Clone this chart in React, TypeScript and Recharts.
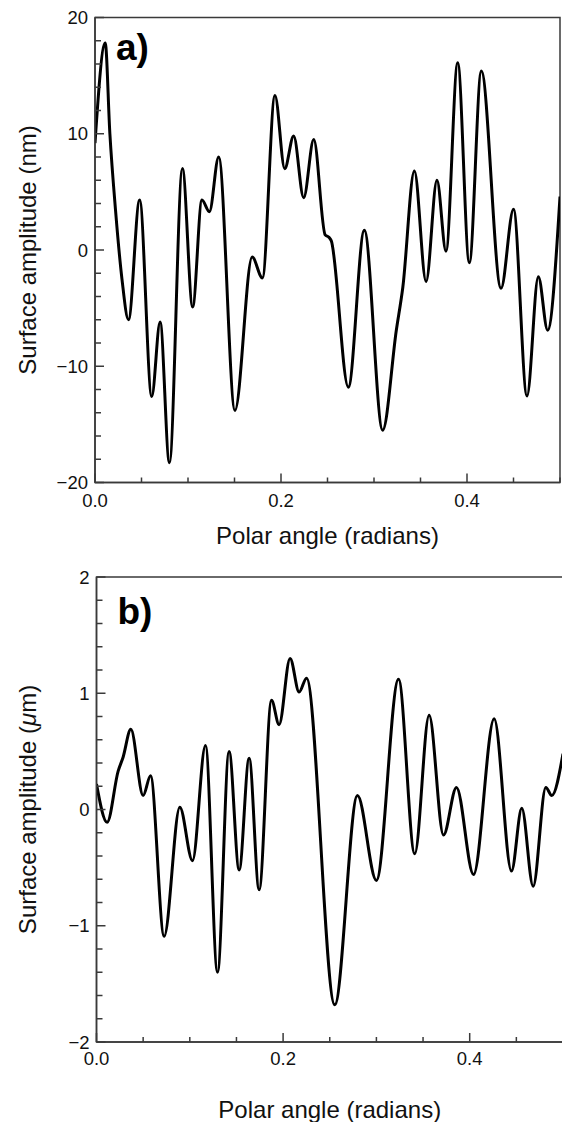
import React from "react";
import { LineChart, Line, XAxis, YAxis, ReferenceArea } from "recharts";

const FONT = "'Liberation Sans', Arial, Helvetica, sans-serif";
const AXIS = "#3a3a3a";

// panel a: surface amplitude in nm
const angleA = [
  0, 0.011, 0.016, 0.022, 0.029, 0.036, 0.048, 0.061, 0.07, 0.08, 0.094, 0.105,
  0.115, 0.123, 0.133, 0.1505, 0.169, 0.18, 0.1935, 0.204, 0.2136, 0.2244,
  0.2352, 0.2475, 0.2515, 0.254, 0.2724, 0.2896, 0.3093, 0.324, 0.331, 0.3434,
  0.356, 0.3677, 0.3774, 0.39, 0.4025, 0.4154, 0.4366, 0.45, 0.4645, 0.4767,
  0.4867, 0.5,
];
const amplitudeA = [
  9.2, 17.8, 10.0, 3.5, -2.5, -6.0, 4.3, -12.6, -6.2, -18.3, 7.0, -4.9,
  4.3, 3.3, 8.0, -13.8, -0.6, -2.4, 13.3, 7.0, 9.8, 4.5,
  9.5, 1.3, 1.1, 0.8, -11.8, 1.7, -15.5, -6.9, -3.2, 6.8,
  -2.7, 6.0, -0.1, 16.1, -1.1, 15.4, -3.3, 3.5, -12.55, -2.3,
  -6.9, 4.6,
];

// panel b: surface amplitude in micrometres
const angleB = [
  0, 0.0114, 0.0232, 0.0285, 0.0368, 0.05, 0.0579, 0.0725, 0.0893, 0.1029,
  0.1168, 0.1297, 0.1421, 0.1529, 0.1636, 0.1743, 0.1876, 0.1957, 0.2075,
  0.2172, 0.2251, 0.2554, 0.2797, 0.3, 0.3237, 0.3411, 0.3565, 0.3719, 0.3858,
  0.4041, 0.4262, 0.4448, 0.4558, 0.468, 0.4816, 0.488, 0.5,
];
const amplitudeB = [
  0.22, -0.11, 0.33, 0.45, 0.69, 0.12, 0.29, -1.09, 0.02, -0.44,
  0.55, -1.4, 0.5, -0.52, 0.44, -0.69, 0.94, 0.73, 1.3,
  1.01, 1.13, -1.68, 0.12, -0.61, 1.12, -0.38, 0.81, -0.22, 0.19,
  -0.56, 0.78, -0.53, 0.01, -0.66, 0.19, 0.12, 0.48,
];

const xTicks = [0, 0.05, 0.1, 0.15, 0.2, 0.25, 0.3, 0.35, 0.4, 0.45, 0.5];
const xMajor = [0, 0.2, 0.4];
const yTicksA = [-20, -18, -16, -14, -12, -10, -8, -6, -4, -2, 0, 2, 4, 6, 8, 10, 12, 14, 16, 18, 20];
const yMajorA = [-20, -10, 0, 10, 20];
const yTicksB = [-2, -1.8, -1.6, -1.4, -1.2, -1, -0.8, -0.6, -0.4, -0.2, 0, 0.2, 0.4, 0.6, 0.8, 1, 1.2, 1.4, 1.6, 1.8, 2];
const yMajorB = [-2, -1, 0, 1, 2];

const isIn = (list: number[], v: number) => list.some((m) => Math.abs(m - v) < 1e-9);
const fmtY = (v: number) => (v < 0 ? "\u2212" + Math.abs(v) : String(v));

const makeXTick = (labelDy: number) => (props: any) => {
  const { x, y, payload } = props;
  const major = isIn(xMajor, payload.value);
  return (
    <g>
      <line x1={x} y1={y} x2={x} y2={y - (major ? 9 : 5)} stroke={AXIS} strokeWidth={1.5} />
      {major && (
        <text x={x} y={y + labelDy} textAnchor="middle" fontSize={18.5} fontFamily={FONT} fill="#111">
          {payload.value.toFixed(1)}
        </text>
      )}
    </g>
  );
};

const makeYTick = (majors: number[]) => (props: any) => {
  const { x, y, payload } = props;
  const major = isIn(majors, payload.value);
  return (
    <g>
      <line x1={x} y1={y} x2={x + (major ? 9 : 6)} y2={y} stroke={AXIS} strokeWidth={1.5} />
      {major && (
        <text x={x - 7} y={y + 6.5} textAnchor="end" fontSize={18.5} fontFamily={FONT} fill="#111">
          {fmtY(payload.value)}
        </text>
      )}
    </g>
  );
};

interface PanelProps {
  angle: number[];
  amplitude: number[];
  yDomain: [number, number];
  yTicks: number[];
  yMajor: number[];
  width: number;
  height: number;
  margin: { top: number; right: number; left: number; bottom: number };
  letter: string;
  letterDy: number;
  xLabelDy: number;
  tickDy: number;
  yTitle: React.ReactNode;
}

function Panel(p: PanelProps) {
  const data = p.angle.map((a, i) => ({ x: a, y: p.amplitude[i] }));
  return (
    <LineChart width={p.width} height={p.height} data={data} margin={p.margin}>
      <ReferenceArea
        x1={0}
        x2={0.5}
        y1={p.yDomain[0]}
        y2={p.yDomain[1]}
        fill="none"
        stroke={AXIS}
        strokeWidth={1.5}
        ifOverflow="visible"
        label={(lp: any) => (
          <text
            x={lp.viewBox.x + 21}
            y={lp.viewBox.y + p.letterDy}
            fontSize={37}
            fontWeight="bold"
            fontFamily={FONT}
            fill="#000"
          >
            {p.letter}
          </text>
        )}
      />
      <XAxis
        type="number"
        dataKey="x"
        domain={[0, 0.5]}
        ticks={xTicks}
        interval={0}
        height={30}
        tickSize={0}
        tickMargin={0}
        tickLine={false}
        axisLine={{ stroke: AXIS, strokeWidth: 1.5 }}
        tick={makeXTick(p.tickDy)}
        allowDataOverflow
        label={(lp: any) => (
          <text
            x={lp.viewBox.x + lp.viewBox.width / 2}
            y={lp.viewBox.y + p.xLabelDy}
            textAnchor="middle"
            fontSize={24}
            fontFamily={FONT}
            fill="#111"
          >
            Polar angle (radians)
          </text>
        )}
      />
      <YAxis
        type="number"
        domain={p.yDomain}
        ticks={p.yTicks}
        interval={0}
        width={60}
        tickSize={0}
        tickMargin={0}
        tickLine={false}
        axisLine={{ stroke: AXIS, strokeWidth: 1.5 }}
        tick={makeYTick(p.yMajor)}
        allowDataOverflow
        label={(lp: any) => {
          const cx = 36;
          const cy = lp.viewBox.y + lp.viewBox.height / 2;
          return (
            <text
              x={cx}
              y={cy}
              transform={`rotate(-90, ${cx}, ${cy})`}
              textAnchor="middle"
              fontSize={24}
              fontFamily={FONT}
              fill="#111"
            >
              {p.yTitle}
            </text>
          );
        }}
      />
      <Line
        type="monotone"
        dataKey="y"
        stroke="#000"
        strokeWidth={3}
        dot={false}
        activeDot={false}
        isAnimationActive={false}
      />
    </LineChart>
  );
}

export default function App() {
  return (
    <div
      style={{
        position: "absolute",
        left: 0,
        top: 0,
        width: 562,
        height: 1122,
        overflow: "hidden",
        background: "#fff",
      }}
    >
      <Panel
        angle={angleA}
        amplitude={amplitudeA}
        yDomain={[-20, 20]}
        yTicks={yTicksA}
        yMajor={yMajorA}
        width={562}
        height={560}
        margin={{ top: 17.5, right: 2, left: 35, bottom: 47.5 }}
        letter="a)"
        letterDy={42.5}
        xLabelDy={61}
        tickDy={24}
        yTitle="Surface amplitude (nm)"
      />
      <Panel
        angle={angleB}
        amplitude={amplitudeB}
        yDomain={[-2, 2]}
        yTicks={yTicksB}
        yMajor={yMajorB}
        width={564}
        height={562}
        margin={{ top: 17, right: 1, left: 36.5, bottom: 50 }}
        letter="b)"
        letterDy={47}
        xLabelDy={76}
        tickDy={23}
        yTitle={
          <>
            Surface amplitude (<tspan fontStyle="italic">{"\u03bc"}</tspan>m)
          </>
        }
      />
    </div>
  );
}
